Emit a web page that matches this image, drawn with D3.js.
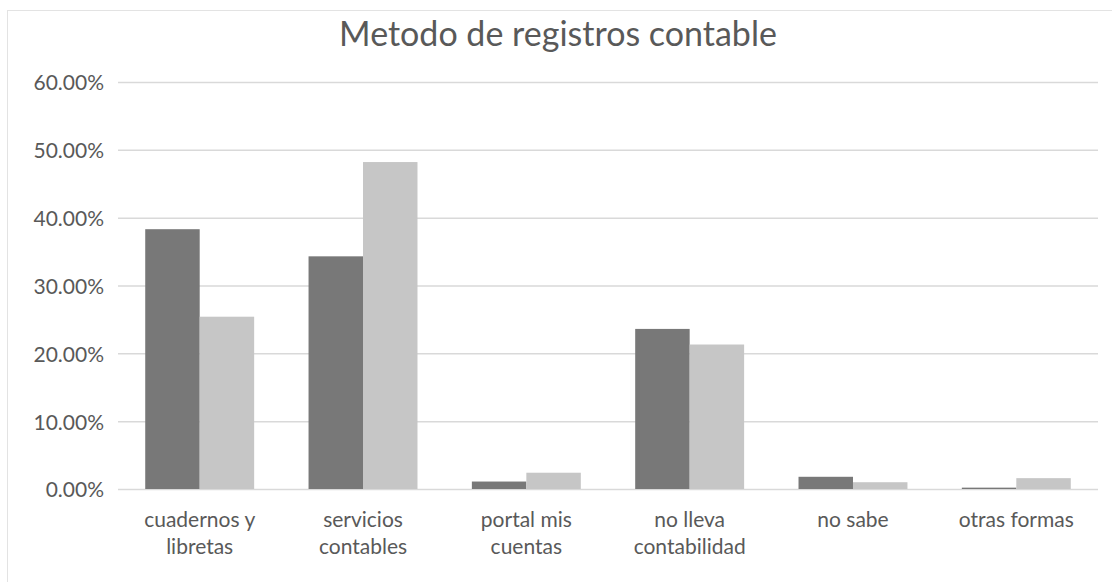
<!DOCTYPE html>
<html><head><meta charset="utf-8">
<script src="https://cdn.jsdelivr.net/npm/d3@7"></script>
<style>body{margin:0;background:#fff;} svg{display:block;}</style>
</head><body>
<svg id="c" width="1112" height="582"></svg>
<script>
const categories = [["cuadernos y","libretas"],["servicios","contables"],["portal mis","cuentas"],["no lleva","contabilidad"],["no sabe"],["otras formas"]];
const series1 = [0.383, 0.343, 0.011, 0.236, 0.018, 0.002];
const series2 = [0.254, 0.482, 0.024, 0.213, 0.010, 0.016];
const yTicks = [0, 0.1, 0.2, 0.3, 0.4, 0.5, 0.6];
const title = "Metodo de registros contable";

const svg = d3.select("#c");
const font = "Lato, 'Open Sans', sans-serif";
const m = {l:118, r:1098, t:82, b:489};

svg.append("rect").attr("x",7.5).attr("y",10.5).attr("width",1120).attr("height",600)
  .attr("fill","#fff").attr("stroke","#e3e3e3").attr("stroke-width",1);

const x = d3.scaleBand().domain(d3.range(categories.length)).range([m.l,m.r]).paddingInner(0.333).paddingOuter(0.1667);
const y = d3.scaleLinear().domain([0,0.6]).range([m.b,m.t]);

const grid = svg.append("g").attr("transform",`translate(${m.l},0)`)
  .call(d3.axisLeft(y).tickValues(yTicks).tickSize(-(m.r-m.l)).tickFormat(""));
grid.select(".domain").remove();
grid.selectAll("line").attr("stroke","#d9d9d9").attr("stroke-width",1.5);

const yl = svg.append("g").attr("transform",`translate(${m.l-14},0)`)
  .call(d3.axisLeft(y).tickValues(yTicks).tickSize(0).tickPadding(0).tickFormat(d3.format(".2%")));
yl.select(".domain").remove();
yl.selectAll("text").attr("font-family",font).attr("font-size",21).attr("fill","#595959").attr("dy","0.38em");

const sub = d3.scaleBand().domain([0,1]).range([0,x.bandwidth()]);
const colors = ["#787878","#c6c6c6"];
[series1,series2].forEach((s,si)=>{
  svg.append("g").selectAll("rect").data(s).join("rect")
    .attr("x",(d,i)=>x(i)+sub(si))
    .attr("width",sub.bandwidth())
    .attr("y",d=>y(d))
    .attr("height",d=>y(0)-y(d))
    .attr("fill",colors[si]);
});

const xl = svg.append("g");
categories.forEach((lines,i)=>{
  const cx = x(i)+x.bandwidth()/2;
  const t = xl.append("text").attr("x",cx).attr("y",527)
    .attr("text-anchor","middle").attr("font-family",font).attr("font-size",21).attr("fill","#595959");
  lines.forEach((l,j)=>t.append("tspan").attr("x",cx).attr("dy",j?27:0).text(l));
});

svg.append("text").attr("x",558).attr("y",46).attr("text-anchor","middle")
  .attr("font-family",font).attr("font-size",34).attr("fill","#595959").text(title);
</script>
</body></html>
